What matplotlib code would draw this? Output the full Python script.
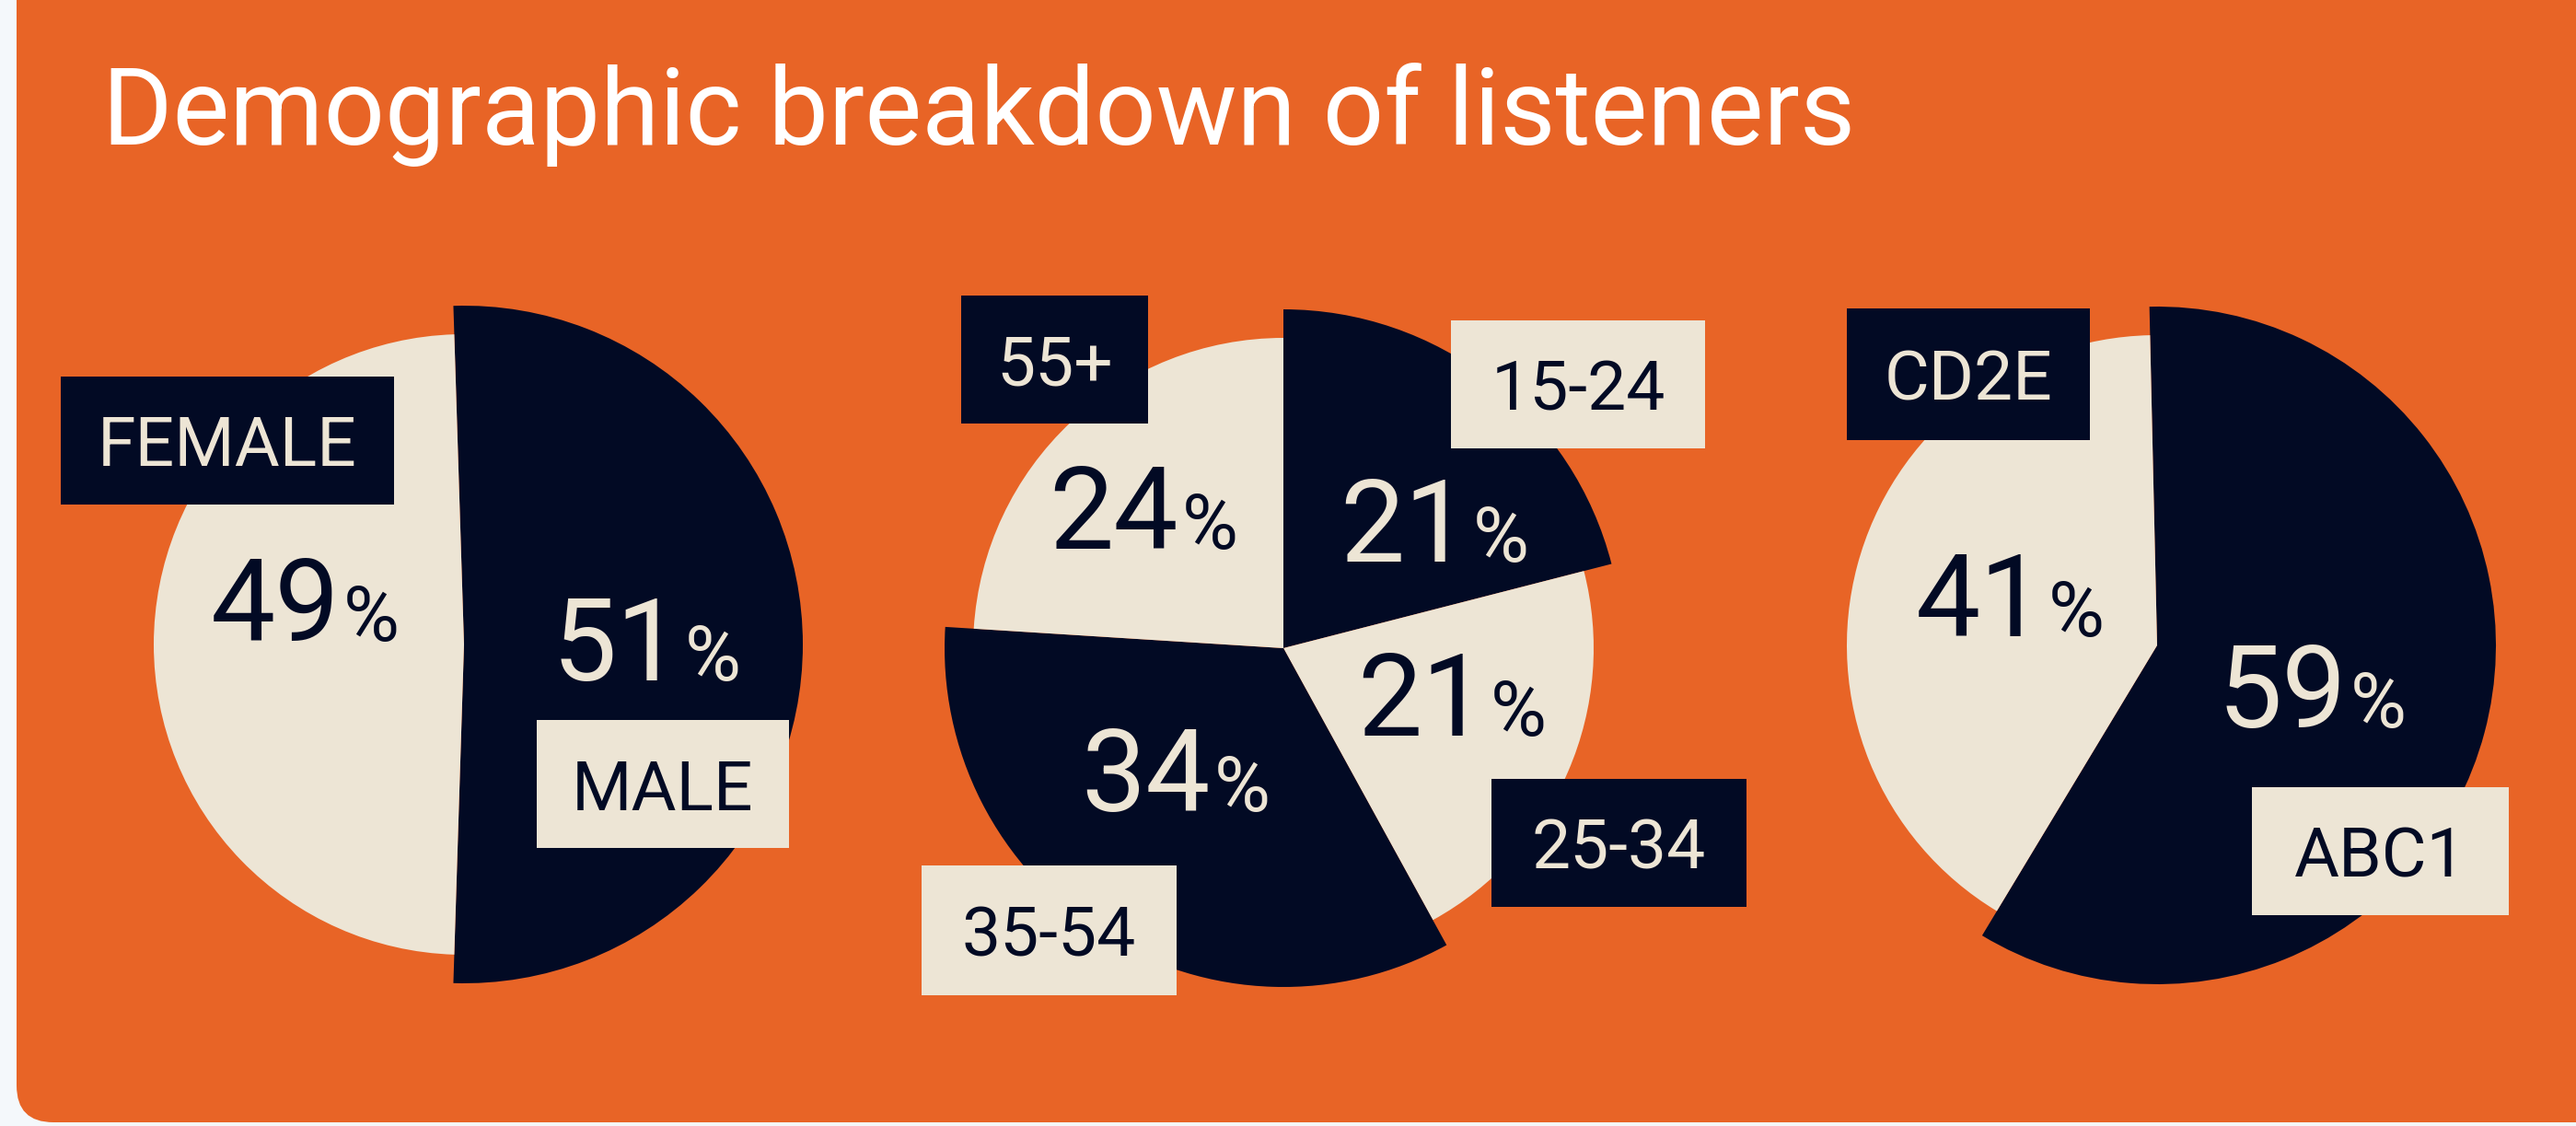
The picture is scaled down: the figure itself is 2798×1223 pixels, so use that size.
import matplotlib
matplotlib.use("Agg")
import matplotlib.pyplot as plt
from matplotlib.patches import FancyBboxPatch, Rectangle

W, H = 2798, 1223

ORANGE = "#E86426"
NAVY = "#020A24"
BEIGE = "#EDE5D5"
PAGE = "#F4F8FB"

title = "Demographic breakdown of listeners"

gender_labels = ["MALE", "FEMALE"]
gender_values = [51, 49]

age_labels = ["15-24", "25-34", "35-54", "55+"]
age_values = [21, 21, 34, 24]

grade_labels = ["ABC1", "CD2E"]
grade_values = [59, 41]

# layout (pixel coords, origin top-left)
pies = [
    dict(values=gender_values, labels=gender_labels, center=(504, 700), start=91.8,
         boxes=[(583, 782, 857, 921), (66, 409, 428, 548)],
         pct_pos=[(702, 739), (331, 696)]),
    dict(values=age_values, labels=age_labels, center=(1394, 704), start=90,
         boxes=[(1576, 348, 1852, 487), (1620, 846, 1897, 985),
                (1001, 940, 1278, 1081), (1044, 321, 1247, 460)],
         pct_pos=[(1558, 610), (1577, 799), (1277, 881), (1242, 596)]),
    dict(values=grade_values, labels=grade_labels, center=(2343, 701), start=91.3,
         boxes=[(2446, 855, 2725, 994), (2006, 335, 2270, 478)],
         pct_pos=[(2511, 790), (2183, 691)]),
]
R_DARK, R_LIGHT = 368, 337

plt.rcParams["font.family"] = ["Roboto", "DejaVu Sans"]

fig = plt.figure(figsize=(W / 100, H / 100), dpi=100)
fig.patch.set_facecolor(PAGE)
ax = fig.add_axes([0, 0, 1, 1])


def Y(y):
    return H - y


bg = FancyBboxPatch((18, Y(1219)), W + 200, 1300, boxstyle="round,pad=0,rounding_size=40",
                    fc=ORANGE, ec="none", zorder=0)
ax.add_patch(bg)

ax.text(111, Y(157), title, color="white", fontsize=84, fontweight="normal",
        ha="left", va="baseline", zorder=5)

renderer = fig.canvas.get_renderer()

for p in pies:
    cols = [NAVY if i % 2 == 0 else BEIGE for i in range(len(p["values"]))]
    cx, cy = p["center"]
    wedges, _ = ax.pie(p["values"], colors=cols, startangle=p["start"], counterclock=False,
                       center=(cx, Y(cy)), radius=R_DARK, frame=True,
                       wedgeprops=dict(linewidth=0))
    for i, w in enumerate(wedges):
        w.set_radius(R_DARK if i % 2 == 0 else R_LIGHT)
        w.set_zorder(2)

    for i, (lab, val) in enumerate(zip(p["labels"], p["values"])):
        dark = i % 2 == 0
        # label box: opposite colour of its slice
        x0, y0, x1, y1 = p["boxes"][i]
        ax.add_patch(Rectangle((x0, Y(y1)), x1 - x0, y1 - y0, fc=BEIGE if dark else NAVY,
                               ec="none", zorder=3))
        ax.text((x0 + x1) / 2, Y((y0 + y1) / 2 + 28), lab, color=NAVY if dark else BEIGE,
                fontsize=54, ha="center", va="baseline", zorder=4)
        # percentage
        px, py = p["pct_pos"][i]
        tc = BEIGE if dark else NAVY
        t1 = ax.text(0, Y(py), f"{val}", color=tc, fontsize=90, fontweight="normal",
                     ha="left", va="baseline", zorder=4)
        t2 = ax.text(0, Y(py), "%", color=tc, fontsize=60, fontweight="normal",
                     ha="left", va="baseline", zorder=4)
        w1 = t1.get_window_extent(renderer).width
        w2 = t2.get_window_extent(renderer).width
        gap = 4
        left = px - (w1 + gap + w2) / 2
        t1.set_x(left)
        t2.set_x(left + w1 + gap)

ax.set_xlim(0, W)
ax.set_ylim(0, H)
ax.axis("off")

fig.savefig("out.png", dpi=100, facecolor=PAGE)
